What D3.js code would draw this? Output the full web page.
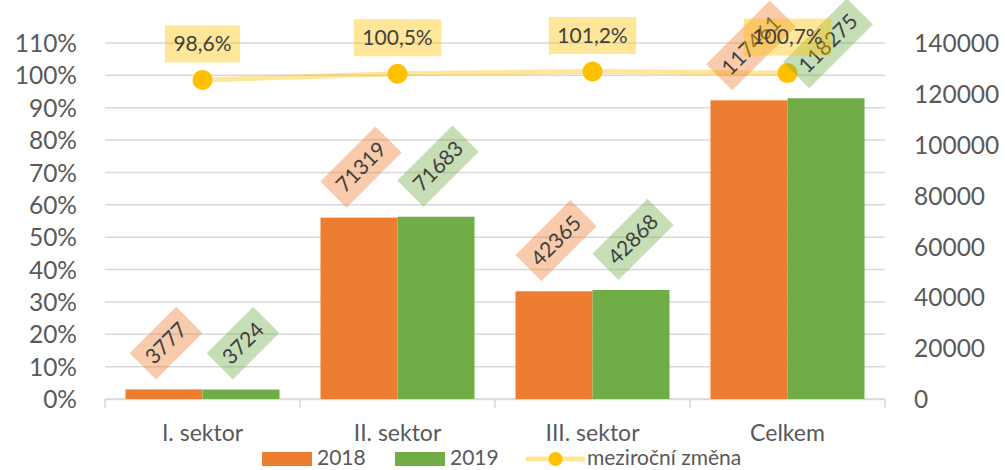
<!DOCTYPE html>
<html>
<head>
<meta charset="utf-8">
<script src="https://cdn.jsdelivr.net/npm/d3@7"></script>
<style>
  html, body { margin: 0; padding: 0; background: #fff; }
  svg { display: block; font-family: Lato, "Open Sans", sans-serif; }
</style>
</head>
<body>
<svg id="chart" width="1005" height="470"></svg>
<script>
// Employment by sector, 2018 vs 2019, with year-on-year change
const categories = ["I. sektor", "II. sektor", "III. sektor", "Celkem"];
const values2018 = [3777, 71319, 42365, 117461];
const values2019 = [3724, 71683, 42868, 118275];
const yoyChange  = [98.6, 100.5, 101.2, 100.7];
const yoyLabels  = ["98,6%", "100,5%", "101,2%", "100,7%"];
const leftTicks  = [0, 10, 20, 30, 40, 50, 60, 70, 80, 90, 100, 110];
const rightTicks = [0, 20000, 40000, 60000, 80000, 100000, 120000, 140000];
const seriesNames = ["2018", "2019", "meziroční změna"];

const colors = { s2018: "#ED7D31", s2019: "#70AD47", line: "#FFC000" };
const textColor = "#595959";

const svg = d3.select("#chart");
const plot = { left: 105, right: 885, top: 43, bottom: 399 };

const x = d3.scaleBand().domain(categories).range([plot.left, plot.right]).paddingInner(0).paddingOuter(0);
const barPad = 20.5;
const xSub = d3.scaleBand().domain(["2018", "2019"])
  .range([barPad, x.bandwidth() - barPad]).padding(0);
const yLeft = d3.scaleLinear().domain([0, 110]).range([plot.bottom, plot.top]);
const yRight = d3.scaleLinear().domain([0, 140000]).range([plot.bottom, plot.top]);

// gridlines (left axis)
svg.append("g").selectAll("line").data(leftTicks).join("line")
  .attr("x1", plot.left).attr("x2", plot.right)
  .attr("y1", d => yLeft(d)).attr("y2", d => yLeft(d))
  .attr("stroke", "#D9D9D9").attr("stroke-width", 1.5);

// left axis
const leftAxis = d3.axisLeft(yLeft).tickValues(leftTicks).tickFormat(d => d + "%").tickSize(0).tickPadding(0);
const gL = svg.append("g").attr("transform", `translate(77,0)`).call(leftAxis);
gL.select(".domain").remove();
gL.selectAll("text").attr("fill", textColor).style("font-size", "24.5px").style("font-family", "Lato").attr("dy", "0.35em");

// right axis
const rightAxis = d3.axisRight(yRight).tickValues(rightTicks).tickFormat(d3.format("d")).tickSize(0).tickPadding(0);
const gR = svg.append("g").attr("transform", `translate(914,0)`).call(rightAxis);
gR.select(".domain").remove();
gR.selectAll("text").attr("fill", textColor).style("font-size", "24.5px").style("font-family", "Lato").attr("dy", "0.35em");

// category axis
const bottomAxis = d3.axisBottom(x).tickSize(0).tickPadding(0);
const gB = svg.append("g").attr("transform", `translate(0,${plot.bottom})`).call(bottomAxis);
gB.select(".domain").attr("stroke", "#D9D9D9").attr("stroke-width", 1.5);
gB.selectAll("text").attr("fill", textColor).style("font-size", "23px").style("font-family", "Lato").attr("y", 26);
const tickBounds = categories.map(c => x(c)).concat([x(categories[categories.length - 1]) + x.bandwidth()]);
svg.append("g").selectAll("line").data(tickBounds).join("line")
  .attr("x1", d => d).attr("x2", d => d)
  .attr("y1", plot.bottom).attr("y2", plot.bottom + 9)
  .attr("stroke", "#D9D9D9").attr("stroke-width", 1.5);

// bars
const barData = [];
categories.forEach((c, i) => {
  barData.push({ cat: c, key: "2018", value: values2018[i], color: colors.s2018 });
  barData.push({ cat: c, key: "2019", value: values2019[i], color: colors.s2019 });
});
svg.append("g").selectAll("rect").data(barData).join("rect")
  .attr("x", d => x(d.cat) + xSub(d.key))
  .attr("width", xSub.bandwidth())
  .attr("y", d => yRight(d.value))
  .attr("height", d => plot.bottom - yRight(d.value))
  .attr("fill", d => d.color);

// year-on-year line
const linePts = categories.map((c, i) => ({ cat: c, v: yoyChange[i], label: yoyLabels[i] }));
svg.append("path").datum(linePts)
  .attr("d", d3.line().x(d => x(d.cat) + x.bandwidth() / 2).y(d => yLeft(d.v)))
  .attr("fill", "none").attr("stroke", colors.line).attr("stroke-opacity", 0.4).attr("stroke-width", 5);
svg.append("g").selectAll("circle").data(linePts).join("circle")
  .attr("cx", d => x(d.cat) + x.bandwidth() / 2).attr("cy", d => yLeft(d.v))
  .attr("r", 10).attr("fill", colors.line);

// rotated value labels above the bars
const labelFont = 21, padX = 8.5, boxH = 37;
const barLabels = svg.append("g");
barData.forEach(d => {
  const g = barLabels.append("g");
  const t = g.append("text").text(d.value)
    .attr("text-anchor", "middle").attr("dy", "0.35em")
    .style("font-size", labelFont + "px").attr("fill", "#404040");
  const w = t.node().getComputedTextLength() + 2 * padX;
  g.insert("rect", "text").attr("x", -w / 2).attr("y", -boxH / 2).attr("width", w).attr("height", boxH)
    .attr("fill", d.color).attr("fill-opacity", 0.4);
  const half = (w + boxH) / (2 * Math.SQRT2);
  const cx = x(d.cat) + xSub(d.key) + xSub.bandwidth() / 2 + 2;
  const cy = yRight(d.value) - 10 - half;
  g.attr("transform", `translate(${cx},${cy}) rotate(-45)`);
});

// percent labels above line points
const pctLabels = svg.append("g");
linePts.forEach(d => {
  const g = pctLabels.append("g")
    .attr("transform", `translate(${x(d.cat) + x.bandwidth() / 2},${yLeft(d.v) - 36})`);
  const t = g.append("text").text(d.label)
    .attr("text-anchor", "middle").attr("dy", "0.35em")
    .style("font-size", labelFont + "px").attr("fill", "#404040");
  const w = t.node().getComputedTextLength() + 2 * padX;
  g.insert("rect", "text").attr("x", -w / 2).attr("y", -boxH / 2).attr("width", w).attr("height", boxH)
    .attr("fill", colors.line).attr("fill-opacity", 0.4);
});

// legend
const legend = svg.append("g").attr("transform", "translate(0,458)");
const legItems = [
  { name: seriesNames[0], color: colors.s2018, x: 262, type: "bar" },
  { name: seriesNames[1], color: colors.s2019, x: 395, type: "bar" },
  { name: seriesNames[2], color: colors.line, x: 528, type: "line" }
];
legItems.forEach(it => {
  if (it.type === "bar") {
    legend.append("rect").attr("x", it.x).attr("y", -6).attr("width", 50).attr("height", 14).attr("fill", it.color);
    legend.append("text").attr("x", it.x + 55).attr("dy", "0.35em").text(it.name)
      .style("font-size", "21px").attr("fill", textColor);
  } else {
    legend.append("line").attr("x1", it.x).attr("x2", it.x + 55).attr("y1", 1).attr("y2", 1)
      .attr("stroke", it.color).attr("stroke-opacity", 0.4).attr("stroke-width", 5).attr("stroke-linecap", "round");
    legend.append("circle").attr("cx", it.x + 27.5).attr("cy", 1).attr("r", 7).attr("fill", it.color);
    legend.append("text").attr("x", it.x + 59).attr("dy", "0.35em").text(it.name)
      .style("font-size", "21px").attr("fill", textColor);
  }
});
</script>
</body>
</html>
